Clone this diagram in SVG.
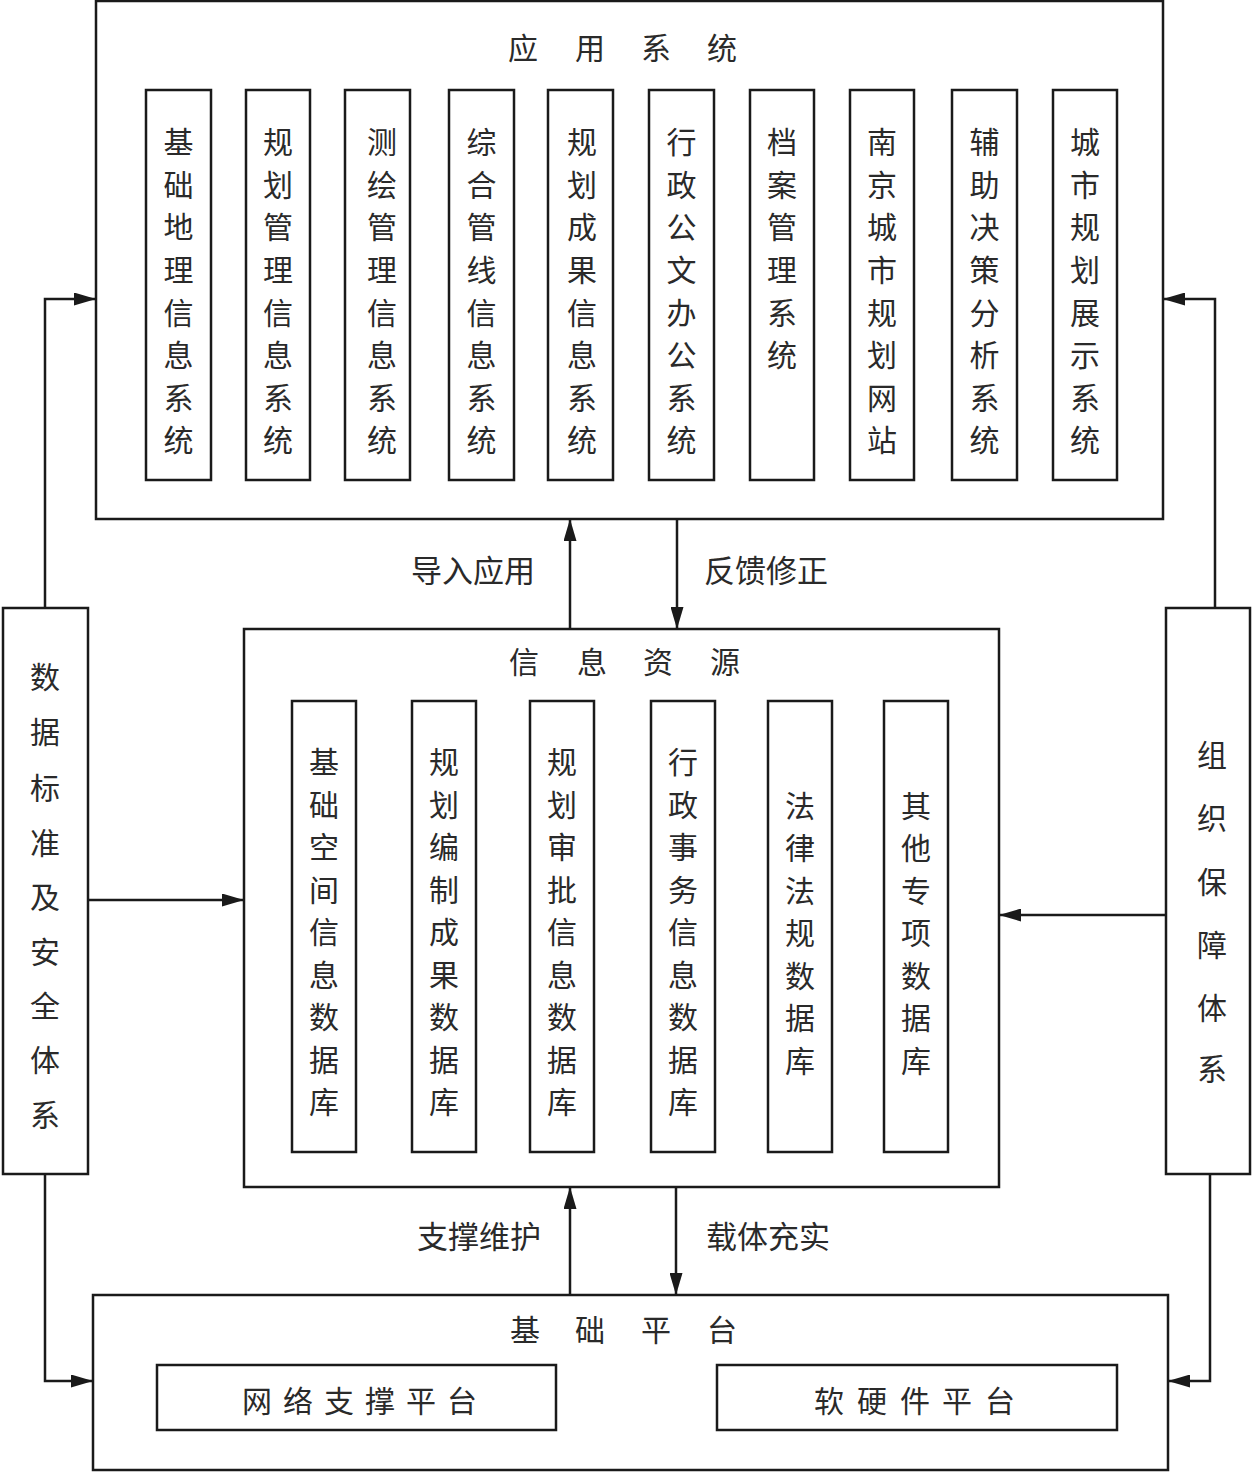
<svg xmlns="http://www.w3.org/2000/svg" width="1252" height="1472" viewBox="0 0 1252 1472">
<style>
.box{fill:none;stroke:#1a1a1a;stroke-width:2.5}
.ln{fill:none;stroke:#1a1a1a;stroke-width:2.5}
.t{font-family:"Noto Sans CJK SC","Noto Sans",sans-serif;font-size:30px;fill:#2a2a2a;text-anchor:middle;dominant-baseline:central}
.lb{font-family:"Noto Sans CJK SC","Noto Sans",sans-serif;font-size:31px;fill:#2a2a2a;text-anchor:middle;dominant-baseline:central}
</style>
<defs>
<marker id="ah" markerUnits="userSpaceOnUse" markerWidth="22" markerHeight="13" refX="22" refY="6.5" orient="auto">
<path d="M0,0 L22,6.5 L0,13 z" fill="#1a1a1a"/>
</marker>
</defs>
<rect width="1252" height="1472" fill="#ffffff"/>

<g id="app">
<rect class="box" x="96" y="1" width="1067" height="518"/>
<text class="t" x="523 590 656 722" y="46">应用系统</text>
</g>
<g id="app1"><rect class="box" x="146" y="90" width="65" height="390"/><text class="t" x="178.5 178.5 178.5 178.5 178.5 178.5 178.5 178.5" y="140 183 225 268 311 353 396 438">基础地理信息系统</text></g>
<g id="app2"><rect class="box" x="246" y="90" width="64" height="390"/><text class="t" x="278 278 278 278 278 278 278 278" y="140 183 225 268 311 353 396 438">规划管理信息系统</text></g>
<g id="app3"><rect class="box" x="345" y="90" width="65" height="390"/><text class="t" x="382 382 382 382 382 382 382 382" y="140 183 225 268 311 353 396 438">测绘管理信息系统</text></g>
<g id="app4"><rect class="box" x="449" y="90" width="65" height="390"/><text class="t" x="481.5 481.5 481.5 481.5 481.5 481.5 481.5 481.5" y="140 183 225 268 311 353 396 438">综合管线信息系统</text></g>
<g id="app5"><rect class="box" x="548" y="90" width="65" height="390"/><text class="t" x="582 582 582 582 582 582 582 582" y="140 183 225 268 311 353 396 438">规划成果信息系统</text></g>
<g id="app6"><rect class="box" x="649" y="90" width="65" height="390"/><text class="t" x="681.5 681.5 681.5 681.5 681.5 681.5 681.5 681.5" y="140 183 225 268 311 353 396 438">行政公文办公系统</text></g>
<g id="app7"><rect class="box" x="750" y="90" width="64" height="390"/><text class="t" x="782 782 782 782 782 782" y="140 183 225 268 311 353">档案管理系统</text></g>
<g id="app8"><rect class="box" x="850" y="90" width="64" height="390"/><text class="t" x="882 882 882 882 882 882 882 882" y="140 183 225 268 311 353 396 438">南京城市规划网站</text></g>
<g id="app9"><rect class="box" x="952" y="90" width="65" height="390"/><text class="t" x="984.5 984.5 984.5 984.5 984.5 984.5 984.5 984.5" y="140 183 225 268 311 353 396 438">辅助决策分析系统</text></g>
<g id="app10"><rect class="box" x="1053" y="90" width="64" height="390"/><text class="t" x="1085 1085 1085 1085 1085 1085 1085 1085" y="140 183 225 268 311 353 396 438">城市规划展示系统</text></g>

<g id="info">
<rect class="box" x="244" y="629" width="755" height="558"/>
<text class="t" x="524 592 658 725" y="660">信息资源</text>
</g>
<g id="db1"><rect class="box" x="292" y="701" width="64" height="451"/><text class="t" x="324 324 324 324 324 324 324 324 324" y="760 803 845 888 930 973 1015 1058 1100">基础空间信息数据库</text></g>
<g id="db2"><rect class="box" x="412" y="701" width="64" height="451"/><text class="t" x="444 444 444 444 444 444 444 444 444" y="760 803 845 888 930 973 1015 1058 1100">规划编制成果数据库</text></g>
<g id="db3"><rect class="box" x="530" y="701" width="64" height="451"/><text class="t" x="562 562 562 562 562 562 562 562 562" y="760 803 845 888 930 973 1015 1058 1100">规划审批信息数据库</text></g>
<g id="db4"><rect class="box" x="651" y="701" width="64" height="451"/><text class="t" x="683 683 683 683 683 683 683 683 683" y="760 803 845 888 930 973 1015 1058 1100">行政事务信息数据库</text></g>
<g id="db5"><rect class="box" x="768" y="701" width="64" height="451"/><text class="t" x="800 800 800 800 800 800 800" y="804 846 889 931 974 1016 1059">法律法规数据库</text></g>
<g id="db6"><rect class="box" x="884" y="701" width="64" height="451"/><text class="t" x="916 916 916 916 916 916 916" y="804 846 889 931 974 1016 1059">其他专项数据库</text></g>

<g id="std">
<rect class="box" x="3" y="608" width="85" height="566"/>
<text class="t" x="45 45 45 45 45 45 45 45 45" y="675 730 786 841 895 950 1004 1058 1113">数据标准及安全体系</text>
</g>
<g id="org">
<rect class="box" x="1166" y="608" width="84" height="566"/>
<text class="t" x="1212 1212 1212 1212 1212 1212" y="753 816 880 943 1006 1067">组织保障体系</text>
</g>

<g id="base">
<rect class="box" x="93" y="1295" width="1075" height="175"/>
<text class="t" x="525 590 656 722" y="1328">基础平台</text>
</g>
<g id="net"><rect class="box" x="157" y="1365" width="399" height="65"/><text class="t" x="257 298 339 380 421 462" y="1399">网络支撑平台</text></g>
<g id="hw"><rect class="box" x="717" y="1365" width="400" height="65"/><text class="t" x="829 872 915 957 1000" y="1399">软硬件平台</text></g>

<g id="connectors">
<path class="ln" d="M45,608 V299 H96" marker-end="url(#ah)"/>
<path class="ln" d="M1215,608 V299 H1163" marker-end="url(#ah)"/>
<path class="ln" d="M570,629 V519" marker-end="url(#ah)"/>
<path class="ln" d="M677,519 V629" marker-end="url(#ah)"/>
<path class="ln" d="M88,900 H244" marker-end="url(#ah)"/>
<path class="ln" d="M1166,915 H999" marker-end="url(#ah)"/>
<path class="ln" d="M570,1295 V1187" marker-end="url(#ah)"/>
<path class="ln" d="M676,1187 V1295" marker-end="url(#ah)"/>
<path class="ln" d="M45,1174 V1381 H93" marker-end="url(#ah)"/>
<path class="ln" d="M1210,1174 V1381 H1168" marker-end="url(#ah)"/>
<text class="lb" x="473" y="568">导入应用</text>
<text class="lb" x="766" y="568">反馈修正</text>
<text class="lb" x="479" y="1234">支撑维护</text>
<text class="lb" x="768" y="1234">载体充实</text>
</g>
</svg>
